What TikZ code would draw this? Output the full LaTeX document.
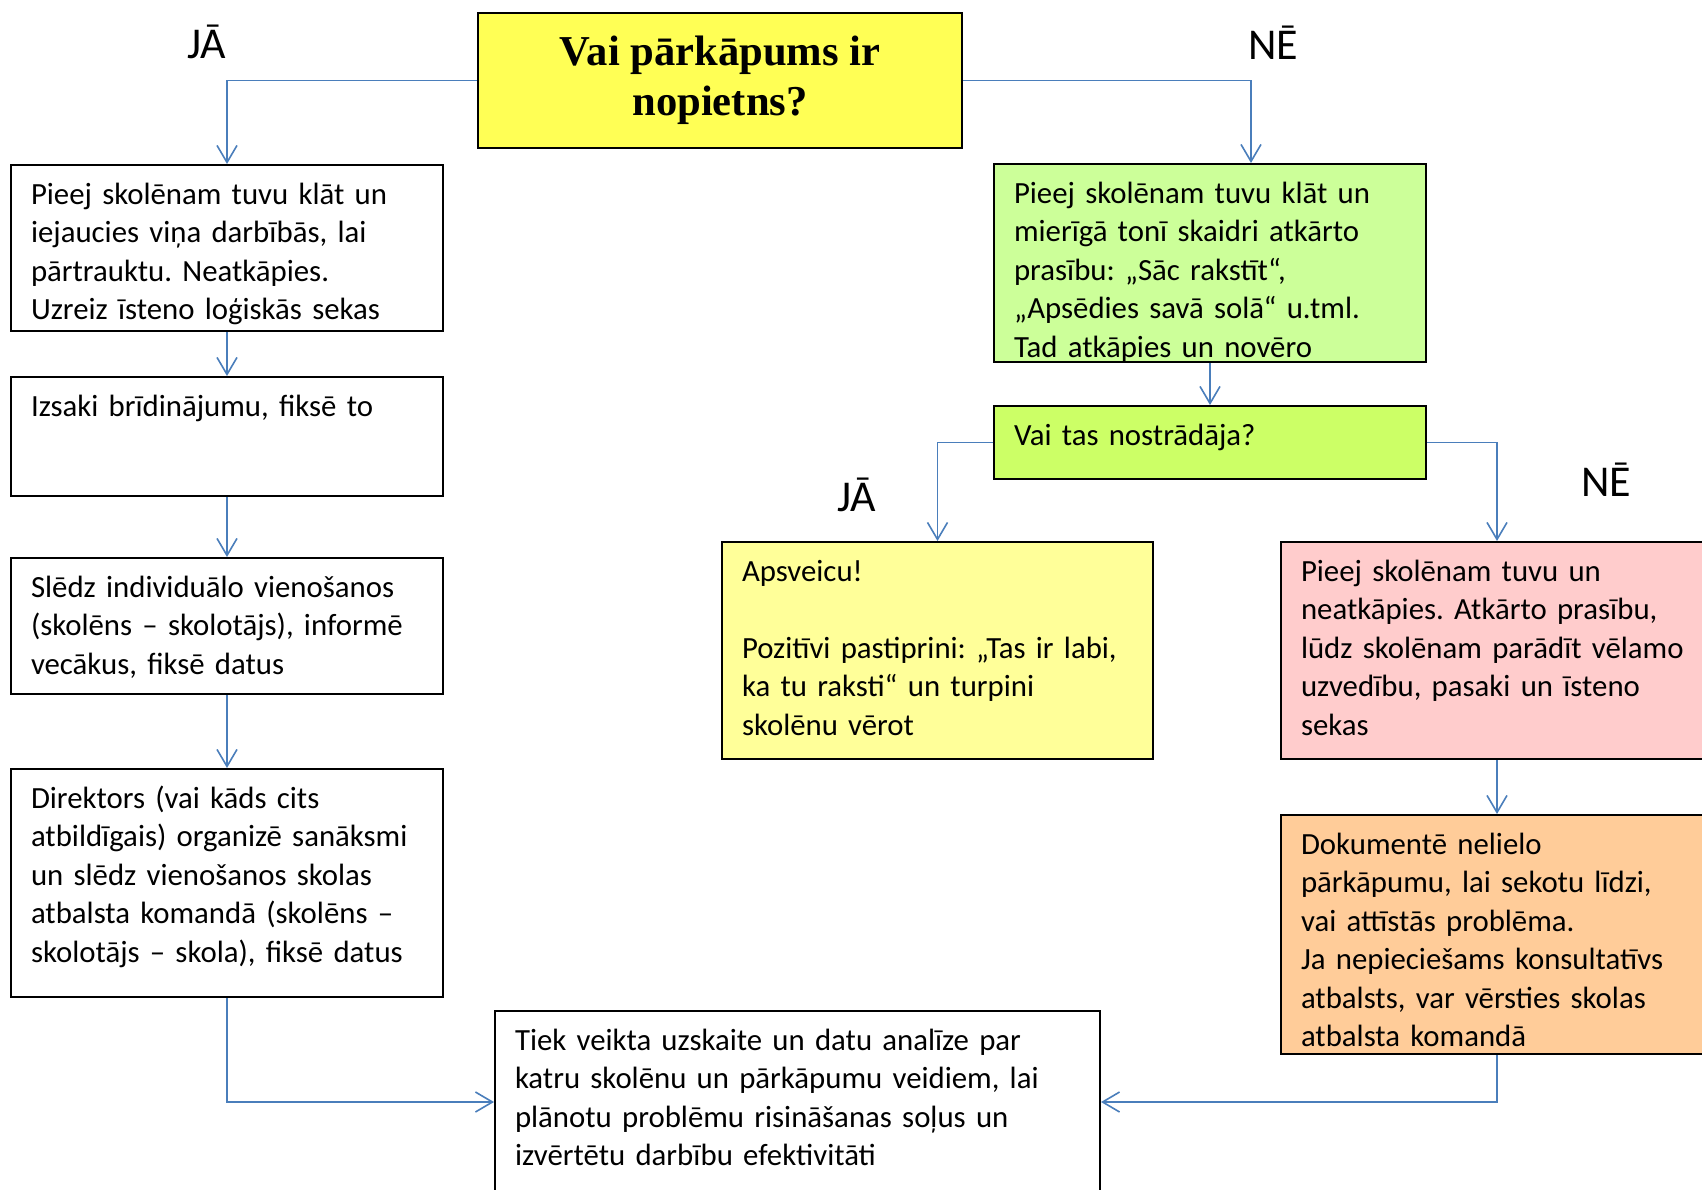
\documentclass[tikz,border=0pt]{standalone}
\usepackage{fontspec}
\setmainfont{Carlito}
\newfontfamily\titlefont{Liberation Serif}
\usetikzlibrary{arrows.meta}
\frenchspacing
\definecolor{linija}{HTML}{4A7EBB}
\definecolor{dzeltens}{HTML}{FFFF55}
\definecolor{gaisdz}{HTML}{FFFF99}
\definecolor{zals}{HTML}{CCFF99}
\definecolor{zals2}{HTML}{CCFF66}
\definecolor{rozs}{HTML}{FFCCCC}
\definecolor{oranzs}{HTML}{FFCC99}
\tikzset{
  blok/.style={draw, line width=2pt, anchor=north west, align=left,
    inner xsep=20pt, inner ysep=0pt, text height=39pt,
    font=\fontsize{30.8}{38.5}\selectfont},
  bulta/.style={draw=linija, line width=1.6pt,
    -{Straight Barb[length=17pt,width=20pt]}},
  atbilde/.style={anchor=base, inner sep=0pt, font=\fontsize{44}{48}\selectfont}
}

\begin{document}
\begin{tikzpicture}[x=1pt, y=-1pt]
  \useasboundingbox (0,0) rectangle (1702,1189);
  \clip (0,0) rectangle (1702,1189);

  \node (jaut) [draw, line width=2pt, fill=dzeltens, align=center,
    minimum width=484pt, minimum height=135pt,
    font=\titlefont\bfseries\fontsize{42.6}{50}\selectfont]
    at (720,80.5) {Vai pārkāpums ir\\nopietns?};

  \node (ja1) [atbilde] at (207,58) {JĀ};
  \node (ne1) [atbilde] at (1273,59) {NĒ};
  \node (ja2) [atbilde] at (857,511) {JĀ};
  \node (ne2) [atbilde] at (1606,496) {NĒ};

  \node (b1) [blok, text width=392pt, text depth=127pt] at (10,164)
    {Pieej skolēnam tuvu klāt un\\iejaucies viņa darbībās, lai\\pārtrauktu. Neatkāpies.\\Uzreiz īsteno loģiskās sekas};
  \node (b2) [blok, text width=392pt, text depth=80pt] at (10,376)
    {Izsaki brīdinājumu, fiksē to};
  \node (b3) [blok, text width=392pt, text depth=97pt] at (10,557)
    {Slēdz individuālo vienošanos\\(skolēns – skolotājs), informē\\vecākus, fiksē datus};
  \node (b4) [blok, text width=392pt, text depth=189pt] at (10,768)
    {Direktors (vai kāds cits\\atbildīgais) organizē sanāksmi\\un slēdz vienošanos skolas\\atbalsta komandā (skolēns –\\skolotājs – skola), fiksē datus};

  \node (z1) [blok, fill=zals, text width=392pt, text depth=159pt] at (993,163)
    {Pieej skolēnam tuvu klāt un\\mierīgā tonī skaidri atkārto\\prasību: „Sāc rakstīt“,\\„Apsēdies savā solā“ u.tml.\\Tad atkāpies un novēro};
  \node (z2) [blok, fill=zals2, text width=392pt, text depth=34pt] at (993,405)
    {Vai tas nostrādāja?};

  \node (d1) [blok, fill=gaisdz, text width=391pt, text depth=178pt] at (721,541)
    {Apsveicu!\\ \mbox{}\\Pozitīvi pastiprini: „Tas ir labi,\\ka tu raksti“ un turpini\\skolēnu vērot};
  \node (r1) [blok, fill=rozs, text width=392pt, text depth=178pt] at (1280,541)
    {Pieej skolēnam tuvu un\\neatkāpies. Atkārto prasību,\\lūdz skolēnam parādīt vēlamo\\uzvedību, pasaki un īsteno\\sekas};
  \node (o1) [blok, fill=oranzs, text width=392pt, text depth=200pt] at (1280,814)
    {Dokumentē nelielo\\pārkāpumu, lai sekotu līdzi,\\vai attīstās problēma.\\Ja nepieciešams konsultatīvs\\atbalsts, var vērsties skolas\\atbalsta komandā};

  \node (uzsk) [blok, text width=565pt, text depth=143pt] at (494,1010)
    {Tiek veikta uzskaite un datu analīze par\\katru skolēnu un pārkāpumu veidiem, lai\\plānotu problēmu risināšanas soļus un\\izvērtētu darbību efektivitāti};

  \draw[bulta] (jaut.west) -| (b1.north);
  \draw[bulta] (jaut.east) -| ([xshift=41pt]z1.north);
  \draw[bulta] (b1.south) -- (b2.north);
  \draw[bulta] (b2.south) -- (b3.north);
  \draw[bulta] (b3.south) -- (b4.north);
  \draw[bulta] (z1.south) -- (z2.north);
  \draw[bulta] (z2.west) -| (d1.north);
  \draw[bulta] (z2.east) -| (r1.north);
  \draw[bulta] (r1.south) -- (o1.north);
  \draw[bulta] (b4.south) |- (uzsk.west);
  \draw[bulta] (o1.south) |- (uzsk.east);
\end{tikzpicture}
\end{document}
